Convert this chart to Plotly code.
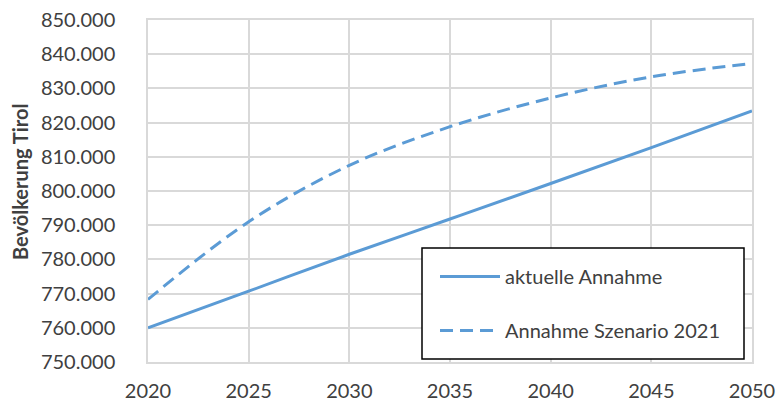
import plotly.graph_objects as go

years = [2020, 2025, 2030, 2035, 2040, 2045, 2050]
aktuelle = [760000, 770700, 781500, 791800, 802200, 812700, 823400]
szenario = [768300, 791000, 807500, 818800, 827200, 833400, 837300]
names = ["aktuelle Annahme", "Annahme Szenario 2021"]
y_title = "Bevölkerung Tirol"

blue = "#5B9BD5"
grid = "#D9D9D9"
txt = "#404040"
font = "Lato"

L, R, T, B = 148, 26, 20, 41
PW, PH = 778 - L - R, 403 - T - B

def px(xp):
    return (xp - L) / PW

def py(yp):
    return (403 - B - yp) / PH

fig = go.Figure()
fig.add_trace(go.Scatter(x=years, y=aktuelle, mode="lines", name=names[0],
                         legendgroup="a",
                         line=dict(color=blue, width=3, shape="spline")))
fig.add_trace(go.Scatter(x=years, y=szenario, mode="lines", name=names[1],
                         legendgroup="b",
                         line=dict(color=blue, width=3, dash="13px,7px", shape="spline")))

# legend frame
fig.add_shape(type="rect", xref="paper", yref="paper", layer="above",
              x0=px(422), x1=px(744), y0=py(359), y1=py(248),
              line=dict(color="black", width=1.5), fillcolor="white")

fig.add_annotation(text="<b>" + y_title + "</b>", xref="paper", yref="paper",
                   x=px(20), y=py(182), textangle=-90, showarrow=False,
                   xanchor="center", yanchor="middle",
                   font=dict(family=font, size=20, color=txt))

fig.update_layout(
    width=778, height=403,
    margin=dict(l=L, r=R, t=T, b=B, autoexpand=False),
    paper_bgcolor="white", plot_bgcolor="white",
    font=dict(family=font, size=20, color=txt),
    separators=",.",
    legend=dict(x=px(435), y=py(257), xanchor="left", yanchor="top",
                bgcolor="rgba(0,0,0,0)", borderwidth=0,
                font=dict(size=20, color=txt), itemwidth=60,
                tracegroupgap=25, traceorder="grouped"),
    xaxis=dict(range=[2020, 2050], tickvals=years, showgrid=True,
               gridcolor=grid, gridwidth=1.5, showline=True, mirror=True,
               linecolor=grid, linewidth=1.5, zeroline=False, automargin=False,
               ticks="", ticklabelstandoff=10, tickfont=dict(size=20, color=txt)),
    yaxis=dict(range=[750000, 850000], dtick=10000, tickformat=",d",
               showgrid=True, gridcolor=grid, gridwidth=1.5, showline=True,
               mirror=True, linecolor=grid, linewidth=1.5, zeroline=False,
               automargin=False,
               ticks="", ticklabelstandoff=27, tickfont=dict(size=20, color=txt)),
)

fig.write_html("out.html", config={"displayModeBar": False},
               post_script="document.body.style.margin='0';document.body.style.overflow='hidden';")
